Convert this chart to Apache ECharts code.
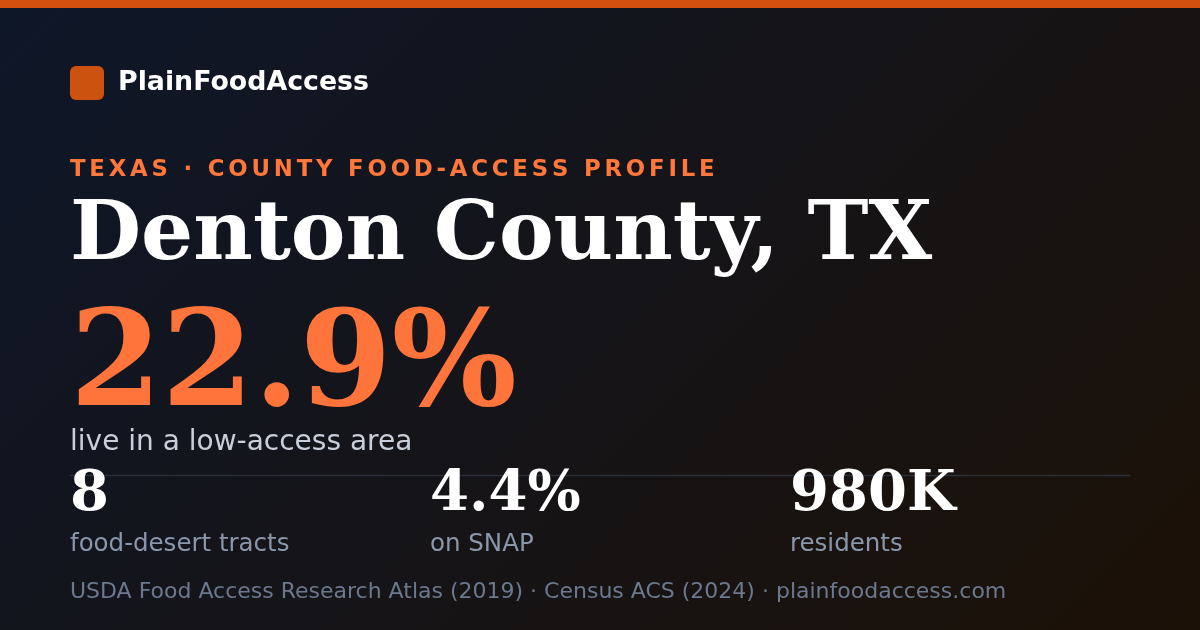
<!DOCTYPE html>
<html><head><meta charset="utf-8">
<script src="https://cdn.jsdelivr.net/npm/echarts@6/dist/echarts.min.js"></script>
<style>html,body{margin:0;padding:0;background:#111}#c{width:1200px;height:630px}</style>
</head><body><div id="c"></div>
<script>
// ---- content ----
const brand = 'PlainFoodAccess';
const eyebrow = 'TEXAS · COUNTY FOOD-ACCESS PROFILE';
const county = 'Denton County, TX';
const headlineValue = '22.9%';
const headlineLabel = 'live in a low-access area';
const statValues = ['8', '4.4%', '980K'];
const statLabels = ['food-desert tracts', 'on SNAP', 'residents'];
const footer = 'USDA Food Access Research Atlas (2019) · Census ACS (2024) · plainfoodaccess.com';

const SANS = '"DejaVu Sans", sans-serif';
const SERIF = '"DejaVu Serif", serif';
const spaced = s => s.split('').join('\u2006');

function txt(text, x, y, size, fill, family, weight) {
  return {
    type: 'text', silent: true,
    style: {
      text: text, x: x, y: y, fill: fill,
      fontSize: size, fontFamily: family, fontWeight: weight || 'normal',
      align: 'left', verticalAlign: 'middle'
    }
  };
}

const chart = echarts.init(document.getElementById('c'), null, {renderer: 'canvas'});
const els = [];
els.push({type: 'rect', silent: true, shape: {x: 0, y: 0, width: 1200, height: 630},
  style: {fill: new echarts.graphic.LinearGradient(142.5, -142.5, 1057.5, 772.5, [
    {offset: 0, color: '#0e1729'},
    {offset: 0.5, color: '#151418'},
    {offset: 1, color: '#1c1107'}
  ], true)}});
els.push({type: 'rect', silent: true, shape: {x: 0, y: 0, width: 1200, height: 8}, style: {fill: '#d4500f'}});
els.push({type: 'rect', silent: true, shape: {x: 70, y: 66, width: 34, height: 34, r: 6}, style: {fill: '#cc5210'}});
els.push(txt(brand, 118, 83.2, 26.8, '#ffffff', SANS, 'bold'));
els.push(txt(spaced(eyebrow), 70, 170.3, 22.8, '#ff773a', SANS, 'bold'));
els.push(txt(county, 70, 238, 82, '#ffffff', SERIF, 'bold'));
els.push(txt(headlineValue, 70, 370.5, 132, '#ff743a', SERIF, 'bold'));
els.push(txt(headlineLabel, 70, 443, 28, '#c8ceda', SANS, 'normal'));
els.push({type: 'line', silent: true, shape: {x1: 70, y1: 475.5, x2: 1130, y2: 475.5},
  style: {stroke: '#2a2f38', lineWidth: 1.5}});
statValues.forEach((v, i) => {
  els.push(txt(v, 70 + i * 360, 495.5, 56, '#ffffff', SERIF, 'bold'));
  els.push(txt(statLabels[i], 70 + i * 360, 544.2, 24.5, '#8a97ab', SANS, 'normal'));
});
els.push(txt(footer, 70, 592.6, 22, '#6b788d', SANS, 'normal'));

chart.setOption({animation: false, graphic: {elements: els}});
</script>
</body></html>
